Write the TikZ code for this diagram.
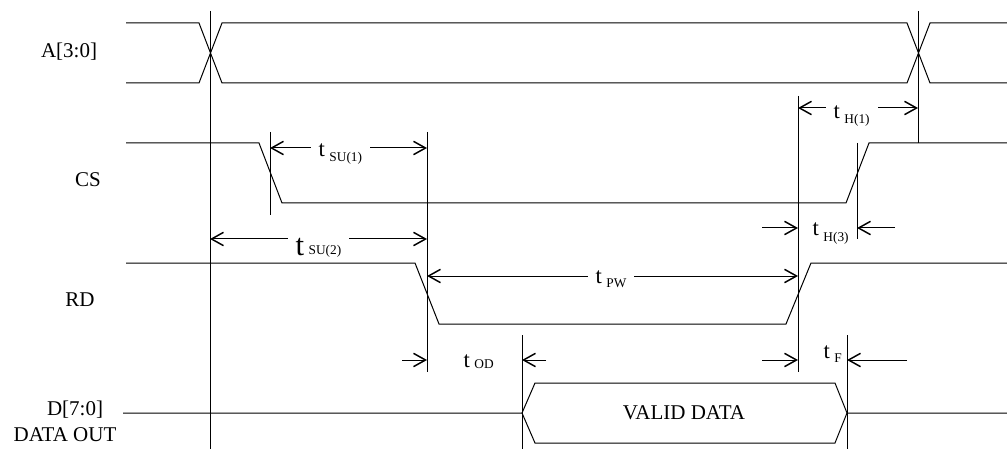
\documentclass[tikz,border=0pt]{standalone}
\usepackage{fontspec}
\setmainfont{Liberation Serif}
\usetikzlibrary{arrows.meta}

\newcommand{\tlabel}[3][17]{{\fontsize{#1}{#1}\selectfont t}\hspace{3.5pt}\raisebox{#3}{\fontsize{10}{10}\selectfont #2}}

\begin{document}
\begin{tikzpicture}[x=0.75pt,y=0.75pt,yscale=-1,xscale=1,line width=0.75pt,
  >={Straight Barb[length=9pt,width=10pt,line width=1.1pt]},
  sig/.style={font=\fontsize{15.75}{18}\selectfont},
  tl/.style={fill=white,inner xsep=6pt,inner ysep=1pt,anchor=base west}]
\path[use as bounding box] (0,0) rectangle (1007,449);

%Waveform A[3:0]
\draw (126,23) -- (199,23) -- (222,83) -- (907,83) -- (930,23) -- (1007,23) ;
\draw (126,83) -- (199,83) -- (222,23) -- (907,23) -- (930,83) -- (1007,83) ;
%Waveform CS
\draw (126,143) -- (259,143) -- (282,203) -- (846,203) -- (869,143) -- (1007,143) ;
%Waveform RD
\draw (126,263) -- (415,263) -- (439,324) -- (786,324) -- (811,263) -- (1007,263) ;
%Waveform D[7:0]
\draw (123,413) -- (522,413) -- (535,383) -- (835,383) -- (847,413) -- (1007,413) ;
\draw (522,413) -- (535,443) -- (835,443) -- (847,413) ;

%Marker lines
\draw (210,11) -- (210,449) ;
\draw (918,11) -- (918,143) ;
\draw (270,132) -- (270,215) ;
\draw (427,132) -- (427,372) ;
\draw (798,96) -- (798,372) ;
\draw (857,143) -- (857,239) ;
\draw (522,335) -- (522,449) ;
\draw (847,335) -- (847,449) ;

%Dimension arrows
\draw[<->] (270,148) -- (427,148) ;
\draw[<->] (798,108) -- (918,108) ;
\draw[<->] (210,239) -- (427,239) ;
\draw[<->] (427,276) -- (798,276) ;
\draw[->] (762,228) -- (798,228) ;
\draw[->] (895,228) -- (857,228) ;
\draw[->] (402,360) -- (427,360) ;
\draw[->] (546,360) -- (522,360) ;
\draw[->] (762,360) -- (798,360) ;
\draw[->] (907,360) -- (847,360) ;

% Timing labels
\node[tl] (tsu1) at (310,157) {\tlabel{SU(1)}{-3.5pt}};
\node[tl] (th1) at (825,119) {\tlabel{H(1)}{-3.5pt}};
\node[tl] (tsu2) at (287,256) {\tlabel[23]{SU(2)}{1pt}};
\node[tl] (tpw) at (587,283) {\tlabel{PW}{-3.5pt}};
\node[tl,fill=none] (th3) at (804,235) {\tlabel{H(3)}{-5pt}};
\node[tl,fill=none] (tod) at (455,367) {\tlabel{OD}{-1pt}};
\node[tl,fill=none] (tf) at (815,358) {\tlabel{F}{-3pt}};

% Signal names
\node[sig] (lA) at (69,52) {A[3:0]};
\node[sig] (lCS) at (88,180) {CS};
\node[sig] (lRD) at (80,300) {RD};
\node[sig] (lD) at (75,410) {D[7:0]};
\node[sig] (lDO) at (65,435) {DATA OUT};
\node[sig] (vd) at (684,413) {VALID DATA};
\end{tikzpicture}
\end{document}
